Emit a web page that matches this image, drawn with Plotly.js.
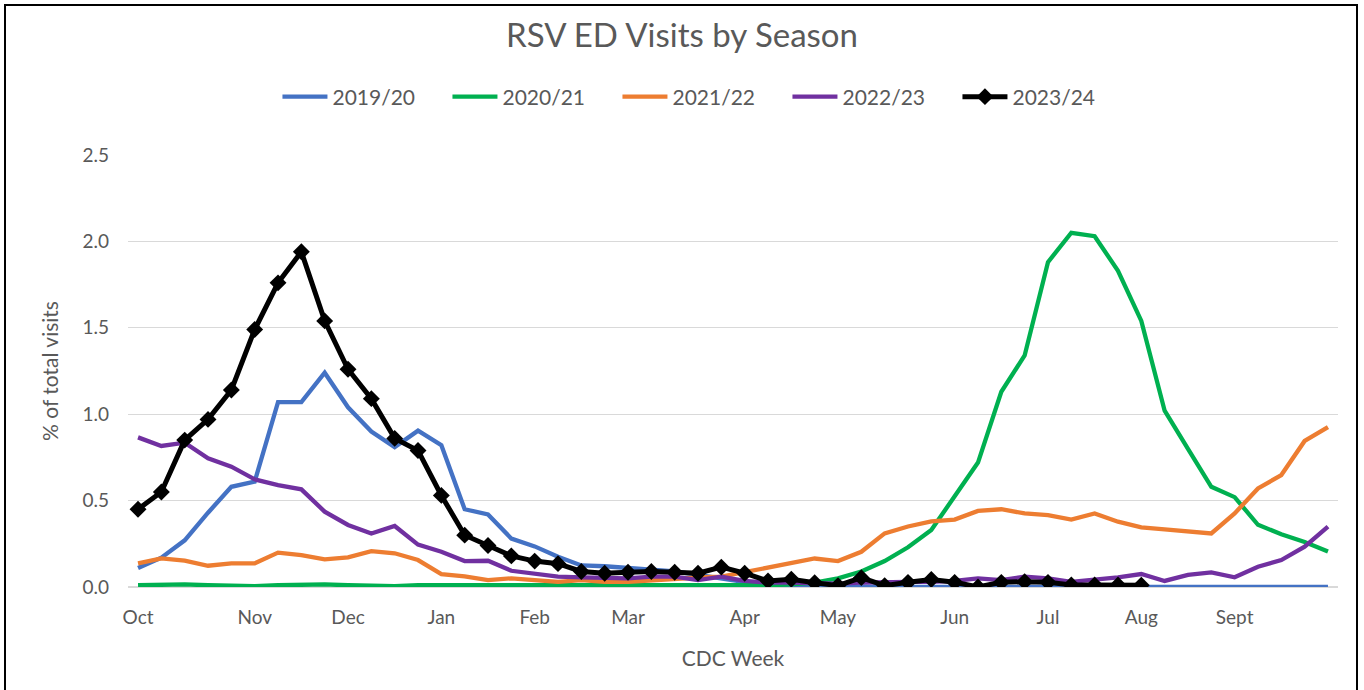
<!DOCTYPE html>
<html>
<head>
<meta charset="utf-8">
<script src="https://cdn.plot.ly/plotly-3.0.1.min.js"></script>
<style>
  html, body { margin: 0; padding: 0; background: #fff; }
  #wrap { position: relative; width: 1364px; height: 690px; overflow: hidden; }
  #chart { width: 1364px; height: 690px; }
  #frame { position: absolute; left: 4px; top: 4px; width: 1354px; height: 700px; border: 2px solid #000; pointer-events: none; box-sizing: border-box; }
</style>
</head>
<body>
<div id="wrap">
  <div id="chart"></div>
  <div id="frame"></div>
</div>
<script>
// CDC week index (0 = first week of October)
const monthTickWeeks = [0, 5, 9, 13, 17, 21, 26, 30, 35, 39, 43, 47];
const monthTickLabels = ["Oct", "Nov", "Dec", "Jan", "Feb", "Mar", "Apr", "May", "Jun", "Jul", "Aug", "Sept"];

const seasonNames = ["2019/20", "2020/21", "2021/22", "2022/23", "2023/24"];

const s2019 = [0.11, 0.17, 0.27, 0.43, 0.58, 0.61, 1.07, 1.07, 1.24, 1.04, 0.90, 0.81, 0.905, 0.82, 0.45, 0.42,
  0.28, 0.235, 0.175, 0.125, 0.12, 0.11, 0.105, 0.09, 0.07, 0.05, 0.025, 0.008, 0.005, 0.003, 0.002, 0.001,
  0.0, 0.0, 0.0, 0.0, 0.0, 0.0, 0.0, 0.0, 0.0, 0.0, 0.0, 0.0, 0.0, 0.0, 0.0, 0.0, 0.0, 0.0, 0.0, 0.0];

const s2020 = [0.01, 0.015, 0.015, 0.01, 0.005, 0.005, 0.01, 0.015, 0.015, 0.01, 0.005, 0.005, 0.01, 0.01, 0.005, 0.005,
  0.01, 0.01, 0.01, 0.005, 0.005, 0.01, 0.01, 0.01, 0.01, 0.01, 0.005, 0.01, 0.015, 0.025, 0.05, 0.09,
  0.15, 0.23, 0.33, 0.52, 0.72, 1.13, 1.34, 1.88, 2.05, 2.03, 1.83, 1.54, 1.02, 0.80, 0.58, 0.52, 0.36, 0.305, 0.26, 0.205];

const s2021 = [0.137, 0.166, 0.152, 0.123, 0.137, 0.137, 0.199, 0.185, 0.16, 0.172, 0.208, 0.195, 0.156, 0.075, 0.062, 0.04,
  0.05, 0.04, 0.03, 0.04, 0.03, 0.03, 0.04, 0.045, 0.055, 0.06, 0.085, 0.112, 0.137, 0.165, 0.15, 0.204,
  0.31, 0.35, 0.38, 0.39, 0.44, 0.45, 0.426, 0.416, 0.39, 0.426, 0.378, 0.345, 0.334, 0.32, 0.31, 0.426, 0.57, 0.648, 0.845, 0.925];

const s2022 = [0.866, 0.816, 0.835, 0.745, 0.696, 0.623, 0.59, 0.565, 0.436, 0.359, 0.31, 0.353, 0.245, 0.204, 0.15, 0.152,
  0.094, 0.079, 0.06, 0.056, 0.056, 0.05, 0.06, 0.06, 0.04, 0.06, 0.035, 0.025, 0.025, 0.02, 0.02, 0.025,
  0.03, 0.03, 0.03, 0.035, 0.05, 0.04, 0.06, 0.05, 0.03, 0.04, 0.056, 0.075, 0.035, 0.07, 0.085, 0.056, 0.117, 0.156, 0.233, 0.35];

const s2023 = [0.45, 0.55, 0.85, 0.97, 1.14, 1.49, 1.76, 1.94, 1.54, 1.26, 1.09, 0.86, 0.79, 0.53, 0.30, 0.24,
  0.18, 0.15, 0.135, 0.09, 0.08, 0.085, 0.09, 0.085, 0.08, 0.115, 0.08, 0.035, 0.045, 0.025, 0.008, 0.054,
  0.008, 0.027, 0.044, 0.027, 0.0, 0.027, 0.031, 0.027, 0.012, 0.012, 0.012, 0.01];

const seasonColors = ["#4472C4", "#00B050", "#ED7D31", "#7030A0", "#000000"];
const allSeries = [s2019, s2020, s2021, s2022, s2023];

const FONT = "Lato, 'Liberation Sans', sans-serif";
const GREY = "#595959";

const traces = allSeries.map((vals, k) => {
  const isCurrent = k === 4;
  const t = {
    type: "scatter",
    mode: isCurrent ? "lines+markers" : "lines",
    name: seasonNames[k],
    x: vals.map((_, i) => i),
    y: vals,
    line: { color: seasonColors[k], width: isCurrent ? 5 : 4.3 },
    hoverinfo: "skip"
  };
  if (isCurrent) t.marker = { symbol: "diamond", size: 13, color: "#000" };
  return t;
});

const layout = {
  width: 1364,
  height: 690,
  paper_bgcolor: "#fff",
  plot_bgcolor: "#fff",
  margin: { l: 128, r: 26, t: 155, b: 103 },
  font: { family: FONT, color: GREY, size: 19 },
  title: {
    text: "RSV ED Visits by Season",
    font: { family: FONT, size: 33, color: GREY },
    x: 0.5, xref: "container", xanchor: "center",
    y: 1 - 35 / 690, yref: "container", yanchor: "middle"
  },
  showlegend: true,
  legend: {
    orientation: "h",
    x: 0.515, xref: "container", xanchor: "center",
    y: 1 - 97 / 690, yref: "container", yanchor: "middle",
    font: { family: FONT, size: 21, color: GREY },
    itemwidth: 45,
    entrywidth: 110,
    entrywidthmode: "pixels"
  },
  xaxis: {
    range: [-0.43, 51.43],
    tickvals: monthTickWeeks,
    ticktext: monthTickLabels,
    showgrid: false,
    zeroline: false,
    showline: false,
    ticks: "",
    ticklabelstandoff: 17,
    tickfont: { family: FONT, size: 19, color: GREY },
    title: { text: "CDC Week", font: { family: FONT, size: 21, color: GREY }, standoff: 24 },
    fixedrange: true
  },
  yaxis: {
    range: [0, 2.5],
    dtick: 0.5,
    tickformat: ".1f",
    showgrid: true,
    gridcolor: "#D9D9D9",
    gridwidth: 1.3,
    zeroline: true,
    zerolinecolor: "#D9D9D9",
    zerolinewidth: 1.3,
    showline: false,
    ticks: "",
    ticklabelstandoff: 18,
    tickfont: { family: FONT, size: 19, color: GREY },
    title: { text: "% of total visits", font: { family: FONT, size: 21, color: GREY }, standoff: 18 },
    fixedrange: true
  }
};

Plotly.newPlot("chart", traces, layout, { staticPlot: true, displayModeBar: false });
</script>
</body>
</html>
